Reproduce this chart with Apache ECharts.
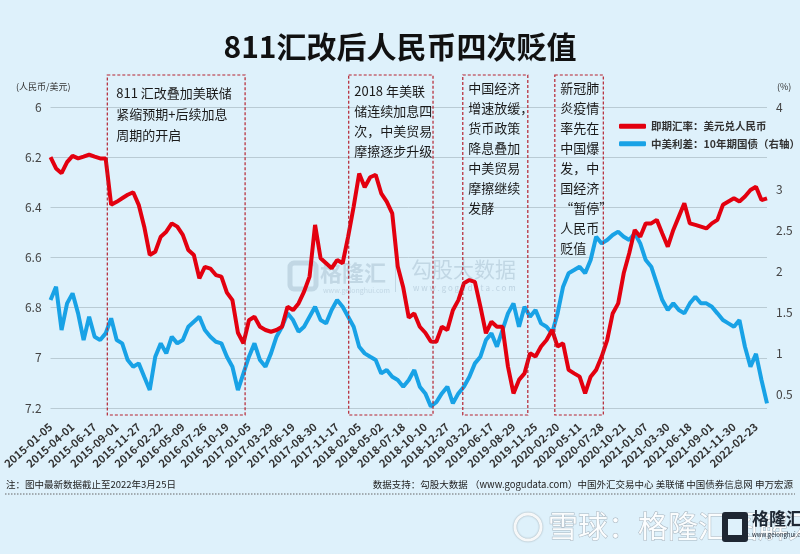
<!DOCTYPE html>
<html><head><meta charset="utf-8">
<script src="https://cdn.jsdelivr.net/npm/echarts@6/dist/echarts.min.js"></script>
<style>html,body{margin:0;padding:0;background:#def1fb;}#c{width:800px;height:554px;}</style>
</head><body><div id="c"></div><script>
const FONT = '"Noto Sans CJK SC","Noto Sans",sans-serif';
const chartTitle = '811汇改后人民币四次贬值';
const tickLabels = ['2015-01-05','2015-04-01','2015-06-17','2015-09-01','2015-11-27','2016-02-22','2016-05-09','2016-07-26','2016-10-19','2017-01-05','2017-03-29','2017-06-19','2017-08-30','2017-11-17','2018-02-05','2018-05-02','2018-07-18','2018-10-10','2018-12-27','2019-03-22','2019-06-17','2019-08-29','2019-11-25','2020-02-20','2020-05-11','2020-07-28','2020-10-21','2021-01-07','2021-03-30','2021-06-18','2021-09-01','2021-11-30','2022-02-23'];
const stepsPerTick = 4;
const tailSteps = 2;
const fxName = '即期汇率：美元兑人民币';
const spreadName = '中美利差：10年期国债（右轴）';
const fxRate = [6.20,6.245,6.264,6.22,6.195,6.205,6.198,6.19,6.198,6.205,6.205,6.39,6.378,6.364,6.35,6.34,6.39,6.477,6.59,6.577,6.517,6.497,6.464,6.477,6.51,6.57,6.59,6.683,6.637,6.644,6.67,6.676,6.74,6.77,6.90,6.942,6.85,6.836,6.876,6.889,6.896,6.889,6.876,6.796,6.81,6.783,6.736,6.676,6.47,6.603,6.623,6.643,6.61,6.623,6.517,6.397,6.265,6.32,6.28,6.27,6.344,6.377,6.424,6.636,6.72,6.84,6.823,6.876,6.90,6.935,6.936,6.876,6.889,6.81,6.77,6.703,6.69,6.697,6.796,6.902,6.856,6.876,6.876,7.035,7.142,7.088,7.062,6.982,6.995,6.955,6.929,6.889,6.955,6.942,7.048,7.062,7.075,7.142,7.075,7.048,6.995,6.929,6.823,6.783,6.663,6.583,6.49,6.517,6.464,6.464,6.45,6.504,6.557,6.49,6.437,6.384,6.464,6.47,6.477,6.484,6.464,6.45,6.39,6.377,6.364,6.377,6.357,6.331,6.318,6.371,6.364];
const spread = [1.646,1.809,1.28,1.606,1.728,1.484,1.158,1.443,1.199,1.158,1.24,1.423,1.158,1.118,0.915,0.833,0.874,0.711,0.55,0.955,1.118,0.996,1.199,1.118,1.158,1.321,1.382,1.443,1.28,1.199,1.138,1.118,0.955,0.833,0.549,0.752,0.955,1.118,0.915,0.833,0.996,1.199,1.321,1.484,1.402,1.26,1.321,1.443,1.565,1.402,1.362,1.524,1.646,1.565,1.443,1.321,1.077,0.996,0.955,0.915,0.752,0.793,0.711,0.671,0.59,0.671,0.793,0.59,0.508,0.35,0.40,0.508,0.59,0.386,0.508,0.59,0.711,0.874,0.955,1.158,1.24,1.077,1.28,1.484,1.606,1.321,1.565,1.443,1.524,1.362,1.321,1.24,1.484,1.809,1.972,2.012,2.053,1.972,2.134,2.419,2.337,2.378,2.439,2.48,2.419,2.378,2.46,2.337,2.134,2.053,1.85,1.646,1.524,1.606,1.524,1.484,1.606,1.687,1.606,1.606,1.565,1.484,1.402,1.362,1.321,1.402,1.077,0.833,0.99,0.671,0.386];
const leftAxisMin = 6, leftAxisMax = 7.2, leftAxisStep = 0.2;
const rightAxisMin = 0.33, rightAxisMax = 4;
const rightTickValues = [0.5,1,1.5,2,2.5,3,4];
const leftAxisName = '(人民币/美元)';
const rightAxisName = '(%)';
const notes = [
  {from:10.3, to:35.3, lines:['811 汇改叠加美联储','紧缩预期+后续加息','周期的开启']},
  {from:54.1, to:69.4, lines:['2018 年美联','储连续加息四','次，中美贸易','摩擦逐步升级']},
  {from:74.8, to:86.6, lines:['中国经济','增速放缓，','货币政策','降息叠加','中美贸易','摩擦继续','发酵']},
  {from:91.5, to:100.3, lines:['新冠肺','炎疫情','率先在','中国爆','发，中','国经济','“暂停”','人民币','贬值']}
];
const noteText = '注：图中最新数据截止至2022年3月25日';
const sourceText = '数据支持：勾股大数据 （www.gogudata.com）中国外汇交易中心 美联储 中国债券信息网 申万宏源';

const categories = [];
tickLabels.forEach((d, i) => {
  categories.push(d);
  const pad = i < tickLabels.length - 1 ? stepsPerTick - 1 : tailSteps;
  for (let j = 0; j < pad; j++) categories.push('');
});

const chart = echarts.init(document.getElementById('c'), null, {renderer: 'canvas'});
const option = {
  backgroundColor: '#def1fb',
  animation: false,
  textStyle: {fontFamily: FONT},
  title: {text: chartTitle, left: 'center', top: 27, textStyle: {fontSize: 30, fontWeight: 'bold', color: '#111', fontFamily: FONT}},
  legend: {
    orient: 'vertical', left: 614, top: 116, itemGap: 7, itemWidth: 27, itemHeight: 5, icon: 'roundRect',
    textStyle: {fontSize: 10.5, fontWeight: 'bold', color: '#333', fontFamily: FONT},
    data: [fxName, spreadName]
  },
  grid: {left: 48, right: 33, top: 107, bottom: 146, containLabel: false},
  xAxis: {
    type: 'category', data: categories, boundaryGap: false,
    axisLine: {show: false, onZero: false}, axisTick: {show: false},
    axisLabel: {interval: stepsPerTick - 1, rotate: 42, margin: 17, fontSize: 11, fontWeight: 'bold', color: '#333', fontFamily: FONT},
    splitLine: {show: false}
  },
  yAxis: [
    {type: 'value', inverse: true, min: leftAxisMin, max: leftAxisMax, interval: leftAxisStep,
     axisLine: {show: false}, axisTick: {show: false},
     axisLabel: {fontSize: 12, color: '#444', margin: 9, fontFamily: FONT},
     splitLine: {lineStyle: {color: '#b9cbd4', width: 1}}},
    {type: 'value', min: rightAxisMin, max: rightAxisMax,
     axisLine: {show: false}, axisTick: {show: false},
     axisLabel: {customValues: rightTickValues, fontSize: 12, color: '#444', margin: 9, fontFamily: FONT},
     splitLine: {show: false}}
  ],
  series: [
    {name: fxName, type: 'line', yAxisIndex: 0, data: fxRate, showSymbol: false, symbol: 'none',
     lineStyle: {color: '#e3000f', width: 4}, itemStyle: {color: '#e3000f'}, z: 3},
    {name: spreadName, type: 'line', yAxisIndex: 1, data: spread, showSymbol: false, symbol: 'none',
     lineStyle: {color: '#18a2e6', width: 4}, itemStyle: {color: '#18a2e6'}, z: 2}
  ]
};
chart.setOption(option);

function xAt(idx) {
  const a = Math.floor(idx), b = Math.min(a + 1, categories.length - 1);
  const pa = chart.convertToPixel({xAxisIndex: 0}, a);
  const pb = chart.convertToPixel({xAxisIndex: 0}, b);
  return pa + (pb - pa) * (idx - a);
}
const boxTop = 75, boxBottom = 415;
const g = [];
g.push({type: 'text', left: 320, top: 262, silent: true, z: 0, style: {text: '格隆汇', font: 'bold 22px ' + FONT, fill: 'rgba(140,165,185,0.35)'}});
g.push({type: 'rect', shape: {x: 290, y: 263, width: 26, height: 26, r: 4}, silent: true, z: 0, style: {fill: 'none', stroke: 'rgba(140,165,185,0.35)', lineWidth: 5}});
g.push({type: 'text', left: 323, top: 287, silent: true, z: 0, style: {text: 'www.gelonghui.com', font: '7px ' + FONT, fill: 'rgba(140,165,185,0.35)'}});
g.push({type: 'rect', shape: {x: 395, y: 262, width: 1, height: 30}, silent: true, z: 0, style: {fill: 'rgba(140,165,185,0.35)'}});
g.push({type: 'text', left: 411, top: 259, silent: true, z: 0, style: {text: '勾股大数据', font: '21px ' + FONT, fill: 'rgba(140,165,185,0.35)'}});
g.push({type: 'text', left: 413, top: 284, silent: true, z: 0, style: {text: 'w w w . g o g u d a t a . c o m', font: '8px ' + FONT, fill: 'rgba(140,165,185,0.4)'}});
notes.forEach((n, i) => {
  const x0 = xAt(n.from), x1 = xAt(n.to);
  g.push({type: 'rect', shape: {x: x0, y: boxTop, width: x1 - x0, height: boxBottom - boxTop}, z: 10,
    style: {fill: 'none', stroke: '#b52330', lineWidth: 1.2, lineDash: [3, 2]}});
  const ofs = i === 0 ? 9 : 5.5;
  const lh = i === 0 ? 21 : 20;
  const top = i === 0 ? 83 : (i === 1 ? 81 : 78);
  g.push({type: 'text', x: x0 + ofs, y: top, z: 11,
    style: {text: n.lines.join('\n'), font: '13px ' + FONT, lineHeight: lh, fill: '#1a1a1a'}});
});
g.push({type: 'text', x: 16, y: 82, style: {text: leftAxisName, font: '9px ' + FONT, fill: '#333'}});
g.push({type: 'text', x: 777, y: 82, style: {text: rightAxisName, font: '9px ' + FONT, fill: '#333'}});
g.push({type: 'text', x: 6, y: 480, style: {text: noteText, font: '9.5px ' + FONT, fill: '#222'}});
g.push({type: 'text', x: 793, y: 480, style: {text: sourceText, font: '9.5px ' + FONT, fill: '#222', align: 'right'}});
g.push({type: 'line', shape: {x1: 5, y1: 494, x2: 795, y2: 494}, style: {stroke: '#666', lineWidth: 1, lineDash: [1.5, 1.5]}});
g.push({type: 'circle', shape: {cx: 528, cy: 527, r: 13}, style: {fill: 'none', stroke: 'rgba(255,255,255,0.9)', lineWidth: 3, shadowColor: 'rgba(0,0,0,0.35)', shadowBlur: 2}});
g.push({type: 'text', x: 548, y: 511, style: {text: '雪球：格隆汇图解天下', font: '30px ' + FONT, fill: 'rgba(255,255,255,0.92)', stroke: 'rgba(120,130,140,0.55)', lineWidth: 1}});
g.push({type: 'rect', shape: {x: 722, y: 512, width: 26, height: 30, r: 3}, style: {fill: '#1e2733'}});
g.push({type: 'rect', shape: {x: 728, y: 519, width: 14, height: 16}, style: {fill: '#def1fb'}});
g.push({type: 'text', x: 752, y: 510, style: {text: '格隆汇', font: 'bold 17px ' + FONT, fill: '#1e2733'}});
g.push({type: 'text', x: 752, y: 532, style: {text: 'www.gelonghui.com', font: '6px ' + FONT, fill: '#1e2733'}});
chart.setOption({graphic: g});
</script></body></html>
